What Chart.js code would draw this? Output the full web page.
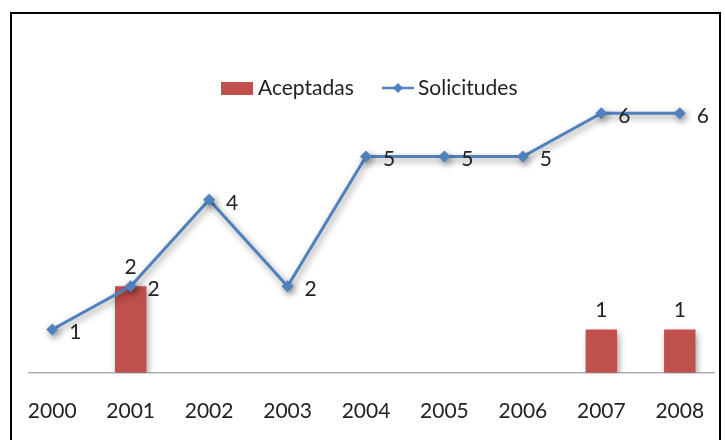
<!DOCTYPE html>
<html>
<head>
<meta charset="utf-8">
<script src="https://cdn.jsdelivr.net/npm/chart.js@4.4.1/dist/chart.umd.min.js"></script>
<style>
  body { margin: 0; background: #fff; }
  #frame { position: absolute; left: 10px; top: 12px; width: 707px; height: 440px; border: 2px solid #000; }
  #c { position: absolute; left: 0; top: 0; }
</style>
</head>
<body>
<div id="frame"></div>
<canvas id="c" width="725" height="440"></canvas>
<script>
const years = ['2000', '2001', '2002', '2003', '2004', '2005', '2006', '2007', '2008']
const aceptadas = [0, 2, 0, 0, 0, 0, 0, 1, 1]
const solicitudes = [1, 2, 4, 2, 5, 5, 5, 6, 6]

const FONT = 'Lato, "Noto Sans", sans-serif'
const FSIZE = 21

// soft shadow like the excel chart
const shadowPlugin = {
  id: 'shadow',
  beforeDatasetDraw(chart) {
    const ctx = chart.ctx
    ctx.save()
    ctx.shadowColor = 'rgba(0,0,0,0.45)'
    ctx.shadowBlur = 7
    ctx.shadowOffsetX = 2
    ctx.shadowOffsetY = 3
  },
  afterDatasetDraw(chart) {
    chart.ctx.restore()
  }
}

// baseline + value labels + legend
const extrasPlugin = {
  id: 'extras',
  beforeDatasetsDraw(chart) {
    const ctx = chart.ctx
    const y0 = chart.scales.y.getPixelForValue(0)
    ctx.save()
    ctx.strokeStyle = '#b0b0b0'
    ctx.lineWidth = 1.5
    ctx.beginPath()
    ctx.moveTo(chart.chartArea.left + 15, y0)
    ctx.lineTo(chart.chartArea.right - 4, y0)
    ctx.stroke()
    ctx.restore()
  },
  afterDraw(chart) {
    const ctx = chart.ctx
    ctx.save()
    ctx.font = FSIZE + 'px ' + FONT
    ctx.fillStyle = '#222'
    ctx.textAlign = 'center'
    ctx.textBaseline = 'middle'
    // bar labels
    const barMeta = chart.getDatasetMeta(1)
    barMeta.data.forEach((el, i) => {
      if (aceptadas[i] > 0) ctx.fillText(aceptadas[i], el.x, el.y - 19)
    })
    // line labels
    const lineMeta = chart.getDatasetMeta(0)
    lineMeta.data.forEach((el, i) => {
      ctx.fillText(solicitudes[i], el.x + 23, el.y + 3)
    })

    // legend
    const ly = 88
    ctx.fillStyle = '#C0504D'
    ctx.fillRect(221, ly - 6, 32, 13)
    ctx.fillStyle = '#222'
    ctx.textAlign = 'left'
    ctx.fillText('Aceptadas', 258, ly)
    ctx.strokeStyle = '#4F81BD'
    ctx.lineWidth = 2.5
    ctx.beginPath()
    ctx.moveTo(382, ly)
    ctx.lineTo(414, ly)
    ctx.stroke()
    ctx.fillStyle = '#4F81BD'
    ctx.beginPath()
    ctx.moveTo(398, ly - 5)
    ctx.lineTo(403, ly)
    ctx.lineTo(398, ly + 5)
    ctx.lineTo(393, ly)
    ctx.closePath()
    ctx.fill()
    ctx.fillStyle = '#222'
    ctx.fillText('Solicitudes', 418, ly)
    ctx.restore()
  }
}

const config = {
  type: 'bar',
  data: {
    labels: years,
    datasets: [
      {
        type: 'line',
        label: 'Solicitudes',
        data: solicitudes,
        borderColor: '#4F81BD',
        backgroundColor: '#4F81BD',
        borderWidth: 3,
        pointStyle: 'rectRot',
        pointRadius: 6,
        pointBorderWidth: 0,
        tension: 0,
        order: 0,
      },
      {
        type: 'bar',
        label: 'Aceptadas',
        data: aceptadas,
        backgroundColor: '#C0504D',
        categoryPercentage: 1,
        barPercentage: 0.4,
        order: 1,
      },
    ],
  },
  options: {
    responsive: false,
    animation: false,
    devicePixelRatio: 1,
    layout: { padding: { left: 13, right: 5, top: 70, bottom: -2 } },
    plugins: {
      legend: { display: false },
      tooltip: { enabled: false },
    },
    scales: {
      x: {
        offset: true,
        grid: { display: false },
        border: { display: false },
        ticks: { color: '#222', font: { family: FONT, size: FSIZE }, padding: 18, maxRotation: 0 },
      },
      y: {
        display: false,
        min: 0,
        max: 7,
      },
    },
  },
  plugins: [shadowPlugin, extrasPlugin],
}

window.myChart = new Chart(document.getElementById('c'), config)
</script>
</body>
</html>
